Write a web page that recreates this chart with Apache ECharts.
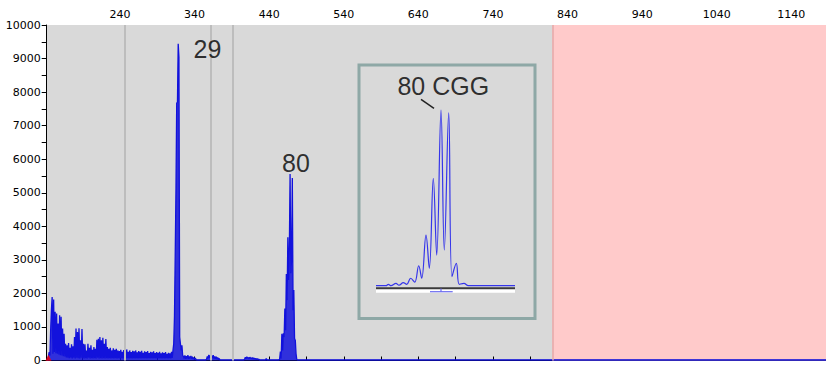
<!DOCTYPE html>
<html><head><meta charset="utf-8">
<script src="https://cdn.jsdelivr.net/npm/echarts@6/dist/echarts.min.js"></script>
<style>html,body{margin:0;padding:0;background:#fff}#c{width:826px;height:366px}</style>
</head><body><div id="c"></div>
<script>
// ---- data ----
const xMin = 141.7, xMax = 1186.5;
const xTickValues = [190,240,290,340,390,440,490,540,590,640,690,740,790,840,890,940,990,1040,1090,1140];
const xLabelValues = [240,340,440,540,640,740,840,940,1040,1140];
const guideLines = [246.7, 361.5, 391.8];
const windowEnd = 819.5;
// trace sampled at 1-unit steps from traceStart
const traceStart = 142;
const traceY = [
 0,40,120,250,150,900,1500,1890,200,1820,
 250,1450,220,1400,200,1100,180,1350,160,1300,
 150,950,130,800,120,500,90,450,80,520,
 70,380,80,480,60,420,80,700,60,950,
 80,850,70,960,60,600,80,940,70,500,
 60,480,70,300,60,500,80,380,60,450,
 70,320,60,400,70,350,60,620,80,650,
 60,700,70,600,60,680,70,500,60,640,
 70,400,60,350,70,380,60,300,70,360,
 60,320,70,350,60,300,70,280,60,320,
 70,260,60,310,70,290,60,330,70,260,
 60,300,70,250,60,290,70,270,60,300,
 70,240,60,280,70,260,60,290,70,230,
 60,270,70,250,60,280,70,220,60,260,
 70,240,60,270,70,220,60,250,70,230,
 60,260,70,210,60,240,70,220,60,250,
 70,200,60,230,70,210,60,260,80,300,
 500,1300,3140,5060,7670,7700,9440,9040,700,500,
 300,450,150,120,60,150,50,130,60,160,
 50,120,60,140,50,110,40,90,40,70,
 30,20,20,20,20,20,20,20,20,20,
 20,20,20,20,40,120,60,170,80,150,
 60,140,70,160,60,120,50,110,40,90,
 30,60,20,20,20,20,20,20,20,20,
 20,20,20,20,20,20,20,20,20,20,
 20,20,20,20,20,20,20,20,20,20,
 20,20,20,20,20,40,100,50,110,60,
 90,50,100,60,80,50,90,40,70,40,
 60,30,50,30,40,20,20,20,20,20,
 20,20,20,20,60,20,20,20,20,20,
 20,20,20,20,20,20,20,20,20,20,
 20,20,40,270,60,800,300,810,700,1550,
 900,2580,1800,3670,2400,3300,5560,2600,3000,5440,
 1500,2100,660,600,200,30,20
];
const tailX = [1186.5];
const tailY = [20];
const annotLabels = ['29','80'];
const annotX = [357.3, 475.9];
const annotY = [9280, 5890];
// inset (zoomed 80 CGG peak)
const insetX = [0,10,12.3,15,20,23,27.3,30.7,34.7,38.7,42.7,45.7,50,53.3,57.3,60.7,65,68.3,72.7,76,80.3,83.3,88,92.3,139];
const insetY = [0,0,60,0,100,20,130,60,320,150,860,320,2180,750,4620,1320,7570,1540,7450,390,960,60,100,0,0];
const insetLabel = '80 CGG';
const insetLabelPos = [67.3, 8600];
const leaderX = [45, 58];
const leaderY = [8030, 7642];

// ---- build ----
const traceData = traceY.map((v,i)=>[traceStart+i, v]);
tailX.forEach((x,i)=>traceData.push([x, tailY[i]]));
const annotData = annotX.map((x,i)=>({value:[x, annotY[i]], name: annotLabels[i]}));

const chart = echarts.init(document.getElementById('c'), null, {renderer:'svg'});
const font = 'DejaVu Sans, sans-serif';
const plain = v => String(v);
chart.setOption({
  animation:false,
  backgroundColor:'#ffffff',
  grid:[
    {left:46.7, right:0, top:25, bottom:2, show:true, backgroundColor:'#d9d9d9', borderWidth:0},
    {left:376, top:100, width:139, height:185.7, show:false}
  ],
  xAxis:[
    {type:'value', gridIndex:0, position:'top', min:xMin, max:xMax,
     axisLine:{show:true, lineStyle:{color:'#000', width:1}},
     axisTick:{show:true, inside:false, length:4, customValues:xTickValues, lineStyle:{color:'#000'}},
     axisLabel:{show:true, customValues:xLabelValues, formatter:plain, fontSize:11, fontFamily:font, color:'#000', margin:5},
     splitLine:{show:false}},
    {type:'value', gridIndex:1, min:0, max:139, show:false}
  ],
  yAxis:[
    {type:'value', gridIndex:0, min:0, max:10000, interval:1000,
     axisLine:{show:true, lineStyle:{color:'#000', width:1}},
     axisTick:{show:true, length:5, lineStyle:{color:'#000'}},
     minorTick:{show:true, splitNumber:2, length:5, lineStyle:{color:'#000'}},
     axisLabel:{formatter:plain, fontSize:11, fontFamily:font, color:'#000', margin:6},
     splitLine:{show:false}},
    {type:'value', gridIndex:1, min:0, max:8000, show:false}
  ],
  graphic:[
    {type:'rect', shape:{x:359, y:65, width:176, height:253.5}, style:{fill:'none', stroke:'#8ea8a6', lineWidth:3}, z:50},
    {type:'rect', shape:{x:376, y:288.3, width:139, height:4.5}, style:{fill:'#ffffff'}, z:50},
    {type:'line', shape:{x1:376, y1:288.3, x2:515, y2:288.3}, style:{stroke:'#3a3a3a', lineWidth:2}, z:51},
    {type:'line', shape:{x1:430, y1:291.7, x2:452.7, y2:291.7}, style:{stroke:'#6a6af0', lineWidth:1.2}, z:51},
    {type:'line', shape:{x1:441, y1:288.5, x2:441, y2:291.7}, style:{stroke:'#6a6af0', lineWidth:1.2}, z:51}
  ],
  series:[
    {type:'line', xAxisIndex:0, yAxisIndex:0, data:[], z:1, silent:true,
     markArea:{silent:true, itemStyle:{color:'#ffcaca'}, data:[[{xAxis:windowEnd},{xAxis:xMax}]]},
     markLine:{silent:true, symbol:'none', label:{show:false},
       data:[
         ...guideLines.map(v=>({xAxis:v, lineStyle:{color:'#bdbdbd', width:2, type:'solid'}})),
         {xAxis:windowEnd, lineStyle:{color:'#e4a8a8', width:1.5, type:'solid'}}
       ]}},
    {type:'line', xAxisIndex:0, yAxisIndex:0, data:traceData, z:3, symbol:'none',
     lineStyle:{color:'#1212dc', width:1.3}, areaStyle:{color:'#1212dc', opacity:0.85}, silent:true},
    {type:'scatter', xAxisIndex:0, yAxisIndex:0, data:[[144,80]], symbol:'triangle', symbolSize:6,
     itemStyle:{color:'#ff0000'}, z:4, clip:false, silent:true},
    {type:'scatter', xAxisIndex:0, yAxisIndex:0, data:annotData, symbolSize:0, z:5, clip:false, silent:true,
     label:{show:true, position:'inside', formatter:p=>p.name, fontSize:25, fontFamily:'Liberation Sans, Arial, sans-serif', color:'#000'}},
    {type:'line', xAxisIndex:1, yAxisIndex:1, data:insetX.map((x,i)=>[x, insetY[i]]), smooth:0.4, symbol:'none',
     lineStyle:{color:'#3535ea', width:1.2}, z:6, clip:false, silent:true},
    {type:'scatter', xAxisIndex:1, yAxisIndex:1, data:[{value:insetLabelPos, name:insetLabel}], symbolSize:0, z:7, clip:false, silent:true,
     label:{show:true, position:'inside', formatter:p=>p.name, fontSize:25, fontFamily:'Liberation Sans, Arial, sans-serif', color:'#000'}},
    {type:'line', xAxisIndex:1, yAxisIndex:1, data:leaderX.map((x,i)=>[x, leaderY[i]]), symbol:'none',
     lineStyle:{color:'#222', width:1.5}, z:7, clip:false, silent:true}
  ]
});
</script></body></html>
